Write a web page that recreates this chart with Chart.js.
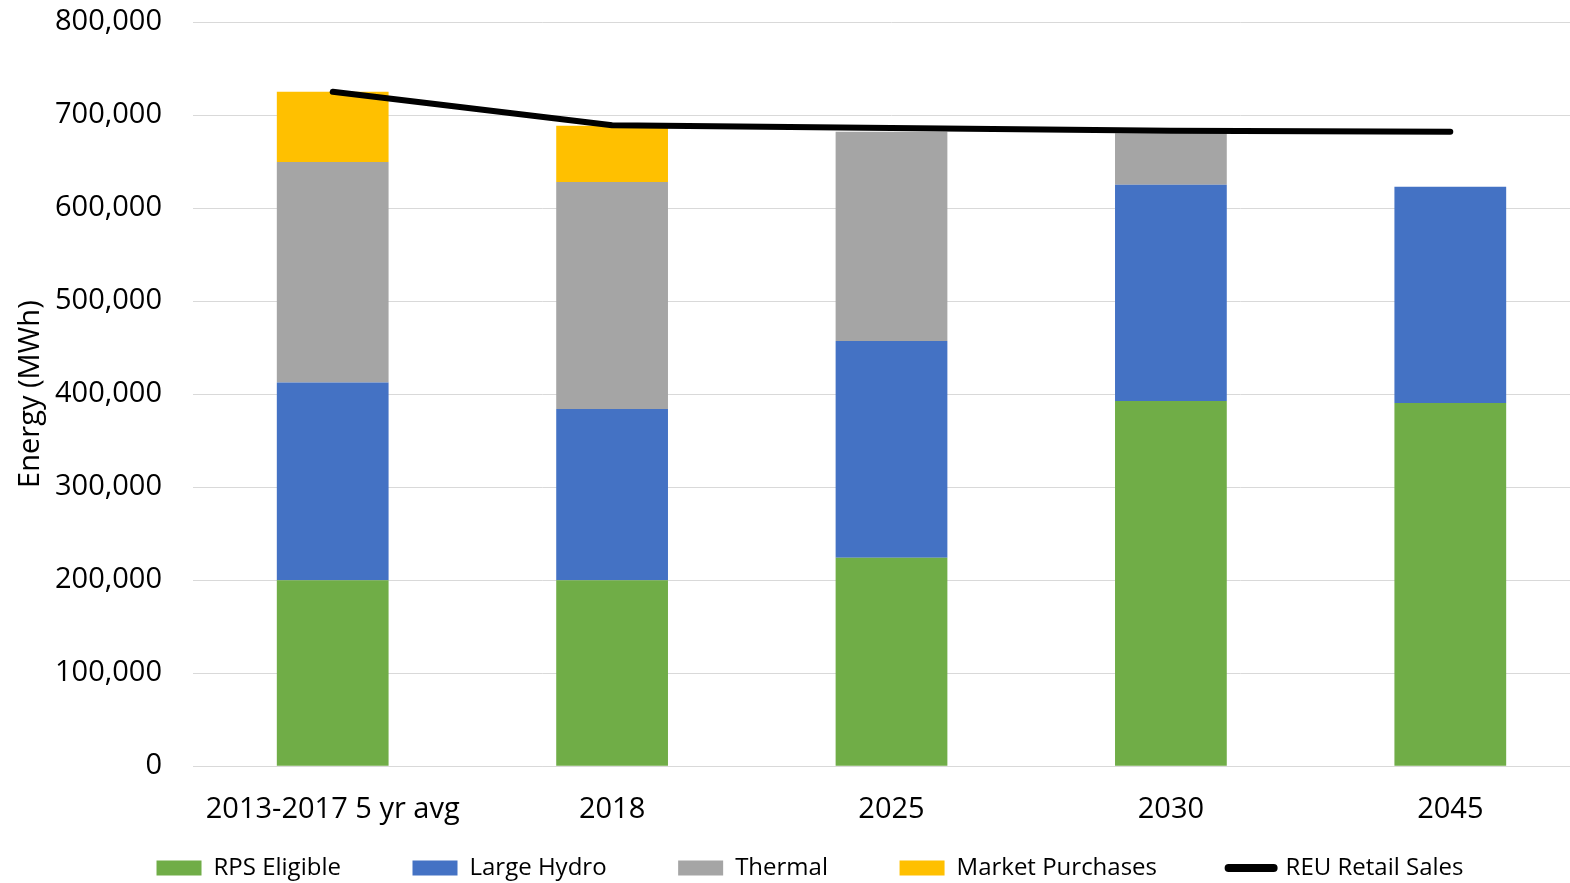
<!DOCTYPE html>
<html>
<head>
<meta charset="utf-8">
<script src="https://cdn.jsdelivr.net/npm/chart.js@4.4.1/dist/chart.umd.min.js"></script>
<style>
  html, body { margin: 0; padding: 0; background: #fff; overflow: hidden; }
  /* the reference is cropped on the right, so the chart is a bit wider than the window */
  #wrap { width: 1592px; height: 883px; }
</style>
</head>
<body>
<div id="wrap"><canvas id="energyChart"></canvas></div>
<script>
const categories = ['2013-2017 5 yr avg', '2018', '2025', '2030', '2045'];

const rpsEligible = [200000, 200000, 224000, 392500, 390500];
const largeHydro = [212500, 184000, 233000, 232500, 232500];
const thermal = [237000, 244000, 225000, 55500, 0];
const marketPurchases = [75500, 60500, 0, 0, 0];
const retailSales = [725000, 689000, 686000, 683000, 682000];

const yTicks = { min: 0, max: 800000, step: 100000 };

const textColor = '#000';
const gridColor = '#d9d9d9';

const energyCtx = document.getElementById('energyChart').getContext('2d');
const energyChart = new Chart(energyCtx, {
  type: 'bar',
  data: {
    labels: categories,
    datasets: [{
      label: 'RPS Eligible',
      data: rpsEligible,
      backgroundColor: '#70ad47'
    }, {
      label: 'Large Hydro',
      data: largeHydro,
      backgroundColor: '#4472c4'
    }, {
      label: 'Thermal',
      data: thermal,
      backgroundColor: '#a5a5a5'
    }, {
      label: 'Market Purchases',
      data: marketPurchases,
      backgroundColor: '#ffc000'
    }, {
      type: 'line',
      label: 'REU Retail Sales',
      data: retailSales,
      stack: 'sales',
      order: -1,
      borderColor: '#000',
      backgroundColor: '#000',
      borderWidth: 6,
      borderCapStyle: 'round',
      borderJoinStyle: 'round',
      pointRadius: 0,
      tension: 0
    }]
  },
  options: {
    responsive: true,
    maintainAspectRatio: false,
    animation: false,
    barPercentage: 0.4,
    categoryPercentage: 1,
    layout: {
      padding: { top: 0, right: 2, bottom: -7, left: 30 }
    },
    plugins: {
      tooltip: { enabled: false },
      legend: {
        display: true,
        position: 'bottom',
        labels: {
          color: textColor,
          font: { family: 'Open Sans', size: 24 },
          usePointStyle: true,
          pointStyleWidth: 45,
          boxHeight: 15,
          padding: 3,
          generateLabels(chart) {
            const items = Chart.defaults.plugins.legend.labels.generateLabels(chart);
            items.sort((a, b) => a.datasetIndex - b.datasetIndex);
            items.forEach((item, i) => {
              const isLine = chart.data.datasets[item.datasetIndex].type === 'line';
              item.pointStyle = isLine ? 'line' : 'rect';
              if (isLine) {
                item.lineWidth = 8;
                item.lineCap = 'round';
                item.strokeStyle = '#000';
              } else {
                item.lineWidth = 0;
              }
              // wide gaps between entries, like the original
              if (i < items.length - 1) item.text += ' '.repeat(11);
            });
            return items;
          }
        }
      }
    },
    scales: {
      x: {
        stacked: true,
        grid: { display: false, drawTicks: false },
        border: { display: true, color: gridColor },
        ticks: {
          color: textColor,
          padding: 26,
          font: { family: 'Open Sans', size: 29 }
        }
      },
      y: {
        stacked: true,
        min: yTicks.min,
        max: yTicks.max,
        afterFit(scale) {
          scale.width = 163;
          scale.paddingTop = 22;
        },
        grid: { color: gridColor, drawTicks: false },
        border: { display: false },
        title: {
          display: true,
          text: 'Energy (MWh)',
          color: textColor,
          padding: { top: -17, bottom: 0 },
          font: { family: 'Open Sans', size: 29 }
        },
        ticks: {
          stepSize: yTicks.step,
          color: textColor,
          padding: 31,
          font: { family: 'Open Sans', size: 29 },
          callback: (v) => v.toLocaleString('en-US')
        }
      }
    }
  }
});
</script>
</body>
</html>
